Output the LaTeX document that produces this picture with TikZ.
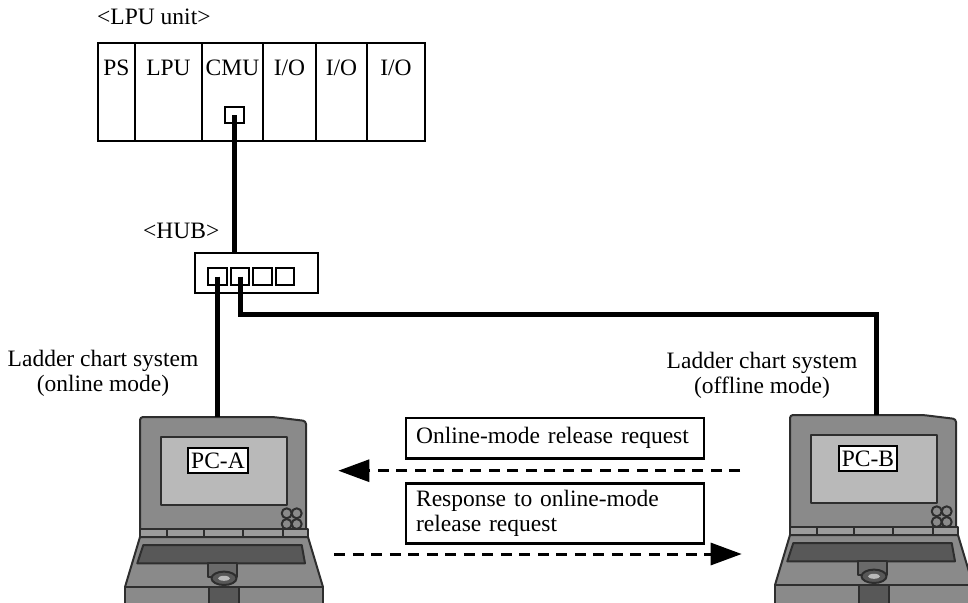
\documentclass[tikz,border=0pt]{standalone}
\usepackage{fontspec}
\setmainfont{Liberation Serif}
\usepackage{xcolor}
\usepackage{tikz}
\usetikzlibrary{arrows.meta,positioning}
\definecolor{lidfill}{HTML}{8A8A8A}
\definecolor{scrfill}{HTML}{B9B9B9}
\definecolor{basefill}{HTML}{8A8A8A}
\definecolor{hingefill}{HTML}{9C9C9C}
\definecolor{keyfill}{HTML}{585858}
\definecolor{stemfill}{HTML}{6A6A6A}
\definecolor{lapline}{HTML}{2E2E2E}
\newcommand{\diagfont}{\fontsize{23.5pt}{25pt}\selectfont}
\tikzset{
  unitcell/.style={draw, line width=2.2pt, outer sep=0pt, inner sep=0pt, minimum width=#1,
               minimum height=98pt, text height=33pt, text depth=65pt},
  port/.style={draw, line width=2.2pt, fill=white, inner sep=0pt, minimum width=#1, minimum height=17pt},
  hubbox/.style={draw, line width=2.2pt, minimum width=123pt, minimum height=40pt},
  cable/.style={line width=5pt},
  tag/.style={anchor=base west, inner sep=0pt},
  msgbox/.style={draw, line width=2.2pt, text width=277.7pt, align=left, inner xsep=10pt,
               inner ysep=0pt, anchor=north west},
  msgflow/.style={-{Triangle[length=31pt,width=22pt]}, line width=3pt, dash pattern=on 11pt off 7.5pt},
  lap/.style={draw=lapline, line width=2pt, line join=round},
  pclabel/.style={draw, line width=2.5pt, fill=white, inner xsep=3pt, inner ysep=0pt, minimum height=25pt},
}
\newcommand{\laptop}[4]{%
  \begin{scope}[shift={(#1,#2)}]
    \draw[lap, fill=basefill] (0,120) -- (168,120) -- (183,170) -- (-15,170) -- cycle;
    \draw[lap, fill=basefill] (-15,170) rectangle (183,200);
    \draw[lap, fill=keyfill] (3.3,128) -- (161.7,128) -- (165,146.3) -- (-2.7,146.3) -- cycle;
    \draw[lap, fill=stemfill] (68.3,146.3) rectangle (96.7,160);
    \draw[lap, fill=keyfill] (84,161.3) ellipse [x radius=12.5, y radius=6.7];
    \fill[scrfill] (84,161.3) ellipse [x radius=6, y radius=2.5];
    \draw[lap, fill=keyfill] (69.3,170) rectangle (99.3,200);
    \draw[lap, fill=lidfill, rounded corners=3pt] (0,112) -- (0,0) -- (133,0) -- (166,4) -- (166,112);
    \draw[lap, fill=scrfill] (20.7,20.3) rectangle (146.7,88.3);
    \foreach \bx/\by in {146.7/96.3,156.7/96.3,146.7/107,156.7/107}
      \draw[lap, fill=lidfill] (\bx,\by) circle [radius=5];
    \draw[lap, fill=hingefill] (0,112) rectangle (168,120);
    \foreach \hx in {26.7,64,103,143} \draw[lap] (\hx,112) -- (\hx,120);
    \node[pclabel] (#3) at (78,43.5) {#4};
    \coordinate (#3lid) at (80,0);
  \end{scope}}

\begin{document}
\begin{tikzpicture}[x=1pt, y=-1pt, font=\diagfont]
  \useasboundingbox (0,0) rectangle (968,602);
  \node[tag] (unitlbl) at (97,25) {<LPU unit>};
  \node[unitcell=37pt, anchor=north west] (ps) at (98,42.7) {PS};
  \node[unitcell=67pt, right=0pt of ps] (lpu) {LPU};
  \node[unitcell=61pt, right=0pt of lpu] (cmu) {CMU};
  \node[unitcell=53pt, right=0pt of cmu] (io1) {I/O};
  \node[unitcell=51pt, right=0pt of io1] (io2) {I/O};
  \node[unitcell=58pt, right=0pt of io2] (io3) {I/O};
  \node[port=19pt, minimum height=16pt] (cmuport) at (234.5,115) {};
  \node[tag] (hublbl) at (143,238) {<HUB>};
  \node[hubbox] (hub) at (256.5,273) {};
  \foreach \i in {1,...,4}
    \node[port=18.5pt] (p\i) at ({195+22.5*\i},276.5) {};
  \node[align=center] (lblA) at (103,373) {Ladder chart system\\(online mode)};
  \node[align=center] (lblB) at (762,375) {Ladder chart system\\(offline mode)};
  \laptop{140}{417}{pcA}{PC-A}
  \laptop{790}{415}{pcB}{PC-B}
  \coordinate (bus) at (876,314);
  \draw[cable] (cmuport.center) -- (cmuport.center |- hub.north);
  \draw[cable] (p1.center) -- (p1.center |- pcAlid);
  \draw[cable] (p2.center) |- (bus) -- (bus |- pcBlid);
  \node[msgbox, minimum height=40.6pt] (req) at (405,416.7) {Online-mode release request};
  \node[msgbox, minimum height=60pt] (resp) at (405,482.3) {Response to online-mode\\release request};
  \coordinate (reqfrom) at (740,470.7);
  \coordinate (reqto) at (338.3,470.7);
  \coordinate (respfrom) at (334.3,554);
  \coordinate (respto) at (741.7,554);
  \draw[msgflow] (reqfrom) -- (reqto);
  \draw[msgflow] (respfrom) -- (respto);
\end{tikzpicture}
\end{document}
